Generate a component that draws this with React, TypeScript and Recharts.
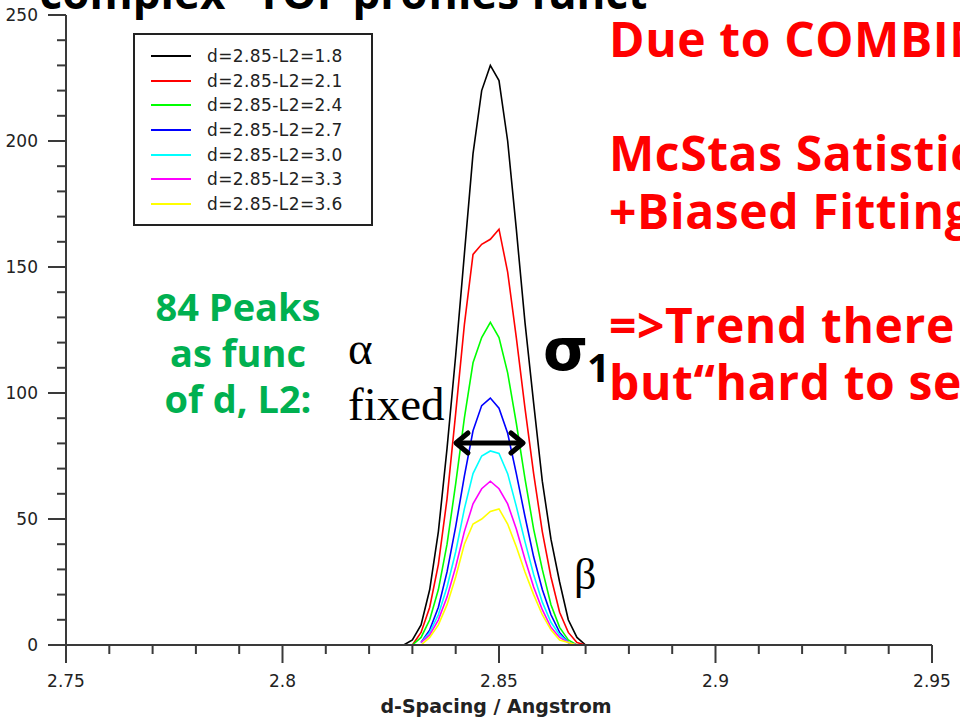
import React from "react";
import { LineChart, Line, XAxis, YAxis, Legend } from "recharts";

// ---- data ----
const X_VALUES = [2.828, 2.83, 2.832, 2.834, 2.836, 2.838, 2.84, 2.842, 2.844, 2.846, 2.848, 2.85, 2.852, 2.854, 2.856, 2.858, 2.86, 2.862, 2.864, 2.866, 2.868, 2.87];

const SERIES_NAMES = [
  "d=2.85-L2=1.8",
  "d=2.85-L2=2.1",
  "d=2.85-L2=2.4",
  "d=2.85-L2=2.7",
  "d=2.85-L2=3.0",
  "d=2.85-L2=3.3",
  "d=2.85-L2=3.6",
];
const SERIES_COLORS = ["#000000", "#ff0000", "#00ff00", "#0000ff", "#00ffff", "#ff00ff", "#ffff00"];

const L2_18 = [0, 2, 8, 22, 45, 78, 115, 155, 195, 220, 230, 224, 200, 165, 128, 96, 65, 42, 25, 10, 3, 0];
const L2_21 = [null, 0, 5, 15, 32, 58, 92, 127, 155, 159, 161, 165, 148, 122, 94, 68, 45, 27, 13, 5, 1, 0];
const L2_24 = [null, 0, 3, 10, 22, 40, 64, 90, 112, 122, 128, 122, 108, 88, 66, 46, 30, 16, 7, 2, 0, null];
const L2_27 = [null, null, 1, 6, 15, 29, 47, 67, 85, 95, 98, 94, 84, 68, 51, 35, 22, 12, 5, 1, 0, null];
const L2_30 = [null, null, 1, 5, 12, 23, 37, 54, 68, 75, 77, 76, 68, 55, 41, 28, 17, 9, 4, 1, 0, null];
const L2_33 = [null, null, 1, 4, 10, 19, 31, 45, 56, 62, 65, 62, 56, 46, 34, 23, 14, 7, 3, 1, 0, null];
const L2_36 = [null, null, 0, 3, 8, 16, 27, 40, 48, 50, 53, 54, 48, 39, 29, 20, 12, 6, 2, 1, 0, null];

const SERIES_VALUES = [L2_18, L2_21, L2_24, L2_27, L2_30, L2_33, L2_36];

const X_TICKS = [2.75, 2.76, 2.77, 2.78, 2.79, 2.8, 2.81, 2.82, 2.83, 2.84, 2.85, 2.86, 2.87, 2.88, 2.89, 2.9, 2.91, 2.92, 2.93, 2.94, 2.95];
const Y_TICKS = [0, 10, 20, 30, 40, 50, 60, 70, 80, 90, 100, 110, 120, 130, 140, 150, 160, 170, 180, 190, 200, 210, 220, 230, 240, 250];

const X_TITLE = "d-Spacing / Angstrom";
const TITLE = "\u201Ccomplex\u201D TOF profiles funct";
const RED_LINES = ["Due to COMBINATION", "", "McStas Satistics", "+Biased Fitting", "", "=>Trend there", "but\u201Chard to see\u201D"];
const GREEN_LINES = ["84 Peaks", "as func", "of d, L2:"];

const rows = X_VALUES.map((x, i) => {
  const r: any = { x };
  SERIES_VALUES.forEach((vals, k) => {
    r["s" + k] = vals[i];
  });
  return r;
});

const AXIS = "#3a3a3a";
const TICK_FONT = "'DejaVu Sans', Verdana, sans-serif";

const YTick = (props: any) => {
  const { x, y, payload } = props;
  const v = payload.value;
  const major = v % 50 === 0;
  return (
    <g>
      <line x1={x - (major ? 18 : 9)} x2={x} y1={y} y2={y} stroke={AXIS} strokeWidth={2} />
      {major && (
        <text x={x - 28} y={y + 6} textAnchor="end" fontFamily={TICK_FONT} fontSize={17} fill="#222">
          {v}
        </text>
      )}
    </g>
  );
};

const XTick = (props: any) => {
  const { x, y, payload } = props;
  const v = payload.value;
  const major = Math.abs(v * 20 - Math.round(v * 20)) < 1e-6;
  return (
    <g>
      <line x1={x} x2={x} y1={y} y2={y + (major ? 18 : 9)} stroke={AXIS} strokeWidth={2} />
      {major && (
        <text x={x} y={y + 42} textAnchor="middle" fontFamily={TICK_FONT} fontSize={17} fill="#222">
          {String(v)}
        </text>
      )}
    </g>
  );
};

const LegendBox = (props: any) => {
  const payload = props.payload || [];
  return (
    <div
      style={{
        width: 240,
        height: 193,
        border: "2px solid #222",
        background: "#fff",
        boxSizing: "border-box",
        paddingTop: 9,
        fontFamily: TICK_FONT,
        fontSize: 17,
        color: "#222",
      }}
    >
      {payload.map((p: any, i: number) => (
        <div key={i} style={{ height: 24.6, display: "flex", alignItems: "center" }}>
          <div style={{ width: 40, height: 2, background: p.color, marginLeft: 16, marginRight: 16 }} />
          <span style={{ letterSpacing: 0.4 }}>{p.value}</span>
        </div>
      ))}
    </div>
  );
};

export default function App() {
  return (
    <div style={{ position: "absolute", left: 0, top: 0, width: 960, height: 721, overflow: "hidden", background: "#fff" }}>
      <LineChart width={960} height={721} data={rows} margin={{ top: 15, right: 28, bottom: 0, left: 0 }}>
        <XAxis
          dataKey="x"
          type="number"
          domain={[2.75, 2.95]}
          ticks={X_TICKS}
          interval={0}
          tickSize={0}
          tickMargin={0}
          tickLine={false}
          axisLine={{ stroke: AXIS, strokeWidth: 2 }}
          tick={(p: any) => <XTick {...p} />}
          height={76}
          allowDataOverflow
        />
        <YAxis
          type="number"
          domain={[0, 250]}
          ticks={Y_TICKS}
          interval={0}
          tickSize={0}
          tickMargin={0}
          tickLine={false}
          axisLine={{ stroke: AXIS, strokeWidth: 2 }}
          tick={(p: any) => <YTick {...p} />}
          width={66}
          allowDataOverflow
        />
        <Legend
          layout="vertical"
          align="center"
          verticalAlign="middle"
          wrapperStyle={{ left: 133, top: 33, width: 240, height: 193 }}
          content={(p: any) => <LegendBox {...p} />}
        />
        {SERIES_NAMES.map((name, k) => (
          <Line
            key={name}
            name={name}
            dataKey={"s" + k}
            stroke={SERIES_COLORS[k]}
            strokeWidth={1.6}
            dot={false}
            type="linear"
            connectNulls={false}
            isAnimationActive={false}
          />
        ))}
      </LineChart>

      <svg width={960} height={721} style={{ position: "absolute", left: 0, top: 0, pointerEvents: "none" }}>
        <text x={496} y={713} textAnchor="middle" fontFamily={TICK_FONT} fontWeight={700} fontSize={19} fill="#222">
          {X_TITLE}
        </text>
        <text x={20} y={9} fontFamily="'Open Sans', sans-serif" fontWeight={700} fontSize={44} fill="#000">
          {TITLE}
        </text>
        {RED_LINES.map((t, i) =>
          t ? (
            <text key={i} x={609} y={57 + i * 57.2} fontFamily="'Open Sans', sans-serif" fontWeight={700} fontSize={48} letterSpacing={0.6} fill="#ff0000">
              {t}
            </text>
          ) : null
        )}
        {GREEN_LINES.map((t, i) => (
          <text key={i} x={238} y={321 + i * 46} textAnchor="middle" fontFamily="'Open Sans', sans-serif" fontWeight={700} fontSize={38} fill="#00b050">
            {t}
          </text>
        ))}
        <text x={348} y={364} fontFamily="'Liberation Serif', serif" fontSize={47} fill="#000">α</text>
        <text x={348} y={420} fontFamily="'Liberation Serif', serif" fontSize={47} fill="#000">fixed</text>
        <text x={543} y={370} fontFamily="'DejaVu Sans', sans-serif" fontWeight={700} fontSize={58} fill="#000">σ</text>
        <text x={587} y={382} fontFamily="'Open Sans', sans-serif" fontWeight={700} fontSize={40} fill="#000">1</text>
        <text x={574} y={589} fontFamily="'Liberation Serif', serif" fontSize={44} fill="#000">β</text>
        <g stroke="#000" strokeWidth={5} fill="none" strokeLinecap="round" strokeLinejoin="round">
          <line x1={457} y1={443} x2={522} y2={443} />
          <polyline points="468,433 456,443 468,453" />
          <polyline points="511,433 523,443 511,453" />
        </g>
      </svg>
    </div>
  );
}
